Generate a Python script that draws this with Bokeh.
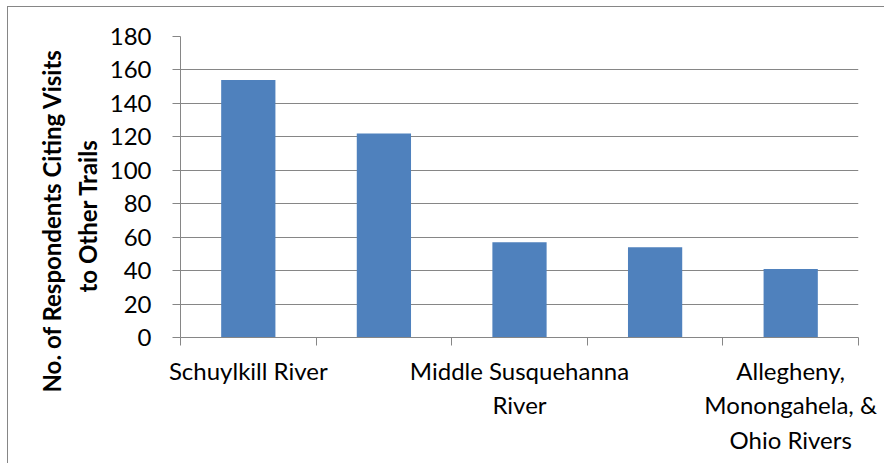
from bokeh.plotting import figure
from bokeh.models import Range1d, FixedTicker, ColumnDataSource, Title
from bokeh.embed import file_html
from bokeh.resources import INLINE

# Data
categories = [
    "Schuylkill River",
    "",
    "Middle Susquehanna\nRiver",
    "",
    "Allegheny,\nMonongahela, &\nOhio Rivers",
]
respondents = [154, 122, 57, 54, 41]
y_ticks = [0, 20, 40, 60, 80, 100, 120, 140, 160, 180]
y_label_lines = ["No. of Respondents Citing Visits", "to Other Trails"]

FONT = "Lato"
GRID = "#868686"

centers = [i + 0.5 for i in range(len(respondents))]
source = ColumnDataSource(dict(x=centers, top=respondents))

p = figure(
    width=877, height=457,
    x_range=Range1d(0, len(respondents)),
    y_range=Range1d(y_ticks[0], y_ticks[-1]),
    output_backend="svg", toolbar_location=None,
    min_border_left=172, min_border_right=27,
    min_border_top=29, min_border_bottom=127,
)
p.margin = (7, 0, 0, 8)
p.styles = {"box-shadow": "-1px -1px 0 0 #868686"}
p.outline_line_color = None
p.background_fill_color = "white"
p.border_fill_color = "white"

p.vbar(x="x", top="top", width=0.4, bottom=0, source=source,
       fill_color="#4F81BD", line_color=None)

# y axis
p.yaxis.ticker = FixedTicker(ticks=y_ticks)
p.yaxis.axis_line_color = GRID
p.yaxis.major_tick_line_color = GRID
p.yaxis.major_tick_out = 8
p.yaxis.major_tick_in = 0
p.yaxis.minor_tick_line_color = None
p.yaxis.major_label_text_font = FONT
p.yaxis.major_label_text_font_size = "24px"
p.yaxis.major_label_text_color = "black"
p.yaxis.major_label_standoff = 21

# y axis title: two lines, centred a little below the plot centre as in the reference
title_offsets = [-55, 45]
title_standoffs = [0, 10]
for text, off, so in reversed(list(zip(y_label_lines, title_offsets, title_standoffs))):
    p.add_layout(Title(
        text=text, align="left", offset=off, standoff=so,
        text_font=FONT, text_font_size="24px", text_font_style="bold",
        text_color="black",
    ), "left")

# x axis: labels at category centres, tick marks at category boundaries
label_pos = [c for c, name in zip(centers, categories) if name]
p.xaxis.ticker = FixedTicker(ticks=label_pos,
                             minor_ticks=list(range(len(respondents) + 1)))
p.xaxis.major_label_overrides = {c: name for c, name in zip(centers, categories) if name}
p.xaxis.axis_line_color = GRID
p.xaxis.major_tick_line_color = None
p.xaxis.major_tick_out = 0
p.xaxis.major_tick_in = 0
p.xaxis.minor_tick_line_color = GRID
p.xaxis.minor_tick_out = 8
p.xaxis.minor_tick_in = 0
p.xaxis.major_label_text_font = FONT
p.xaxis.major_label_text_font_size = "24px"
p.xaxis.major_label_text_color = "black"
p.xaxis.major_label_standoff = 10
p.xaxis.major_label_text_align = "center"

p.xgrid.grid_line_color = None
p.ygrid.grid_line_color = GRID
p.ygrid.grid_line_width = 1

open("out.html", "w").write(file_html(p, INLINE))
